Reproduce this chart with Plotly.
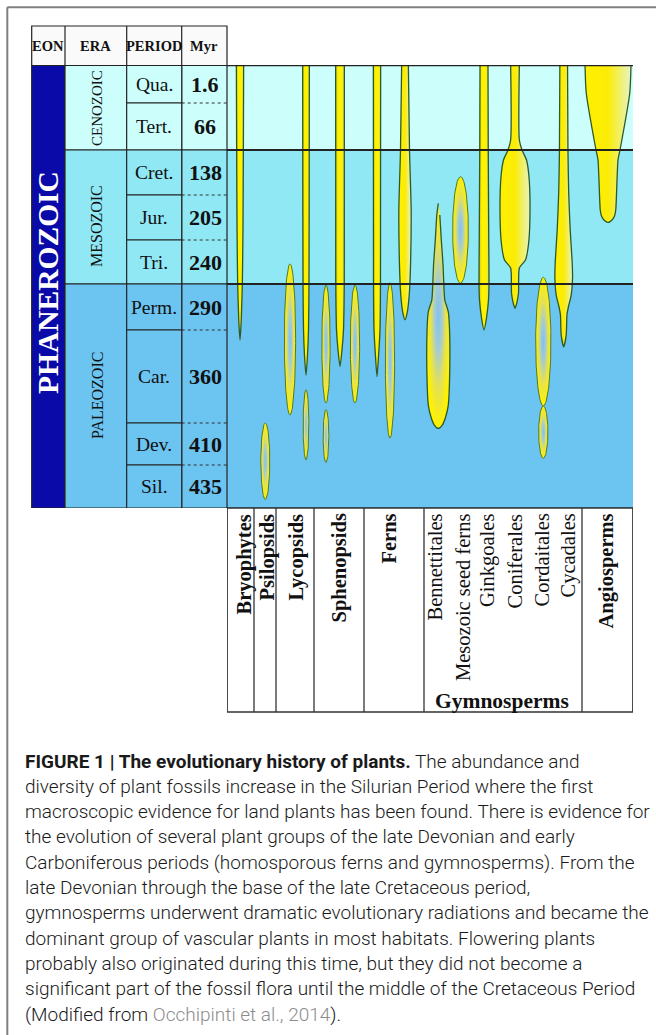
import numpy as np
import plotly.graph_objects as go

W, H = 656, 1035

# ---------------- data ----------------
EON = "PHANEROZOIC"
ERAS = ["CENOZOIC", "MESOZOIC", "PALEOZOIC"]
ERA_PERIOD_COUNT = [2, 3, 4]
PERIODS = ["Qua.", "Tert.", "Cret.", "Jur.", "Tri.", "Perm.", "Car.", "Dev.", "Sil."]
PERIOD_BASE_MYR = [1.6, 66, 138, 205, 240, 290, 360, 410, 435]
HEADERS = ["EON", "ERA", "PERIOD", "Myr"]
TAXA = ["Bryophytes", "Psilopsids", "Lycopsids", "Sphenopsids", "Ferns",
        "Bennettitales", "Mesozoic seed ferns", "Ginkgoales", "Coniferales",
        "Cordaitales", "Cycadales", "Angiosperms"]
TAXA_BOLD = [True, True, True, True, True, False, False, False, False, False, False, True]
GROUP_LABEL = "Gymnosperms"

# long-ranging lineages: age (Myr) and relative width (diversity)
BRYO_AGE = [0, 66, 186, 239, 279, 297.5]
BRYO_W = [7.3, 6.7, 6.0, 4.7, 2.5, 0]
LYCO_AGE = [0, 66, 240, 290, 309, 324]
LYCO_W = [6.7, 6.5, 6.0, 5.0, 3.0, 0]
SPHENO_AGE = [0, 240, 290, 305, 317.6]
SPHENO_W = [8.7, 8.5, 7.0, 4.0, 0]
FERN_AGE = [0, 240, 290, 310, 325]
FERN_W = [7.3, 7.0, 6.0, 3.0, 0]
FERN2_AGE = [0, 66, 160, 221, 250, 271.5, 279]
FERN2_W = [6.7, 9.0, 12.3, 11.3, 8.7, 4.3, 0]
BENNETT_AGE = [150.4, 167.8, 205, 225, 246.5, 257.4, 270.4, 290, 327.6, 346.5, 356.2, 362.4, 366.5]
BENNETT_W = [0, 3, 6, 9.5, 11.5, 13, 20, 22.5, 22.5, 20, 14, 8, 0]
GINKGO_AGE = [0, 66, 205, 240, 257.4, 276.9, 290]
GINKGO_W = [8.0, 8.5, 9.5, 10.0, 9.0, 5.0, 0]
CONIFER_AGE = [0, 52.3, 66, 82, 109.2, 160.3, 207.4, 220.9, 227.3, 249.8, 259.6, 266.4]
CONIFER_W = [8.7, 8.7, 14, 23, 28, 30, 27.3, 21, 8.7, 7.0, 4.0, 0]
CYCAD_AGE = [0, 66, 134.8, 190.1, 220.9, 234.4, 252, 265, 273.7, 293.8, 302.6]
CYCAD_W = [7.7, 8.5, 10, 13, 16.7, 17.7, 15, 9.3, 6.5, 5.0, 0]
ANGIO_AGE = [0, 1.18, 66, 82, 160.3, 169.3, 175.2, 178.9]
ANGIO_W = [46, 43.5, 24, 20, 15.5, 13, 8, 0]

# short-lived lineages (first/last appearance, Myr) with peak width
ELL_TAXON = ["Psilopsids", "Lycopsids", "Lycopsids", "Sphenopsids", "Sphenopsids",
             "Sphenopsids", "Ferns", "Mesozoic seed ferns", "Cordaitales", "Cordaitales"]
ELL_YOUNG = [360, 224, 335, 241, 350, 241, 239, 108.7, 234.7, 347.2]
ELL_OLD = [430, 354, 404, 345, 407, 345, 378, 239.4, 347.2, 402]
ELL_W = [9.0, 11.3, 5.7, 8.3, 5.7, 9.3, 9.3, 15.7, 15.3, 9.3]

# ---------------- layout constants ----------------
ROW_UNITS = [0, 38, 85, 130, 175, 219, 265, 358, 400, 443]  # drawn height of the time scale rows
CH_L, CH_R, CH_T, CH_B = 227, 633, 65, 508
LBL_B = 712
ERA_COLORS = ["#ccfefb", "#8fe8f4", "#6cc4f1"]
EON_COLOR = "#0a0aa8"
LANE_DIV = [0, 27, 49, 87, 137, 197, 355, 406]
ELL_LANE = [38.3, 63, 79, 99, 99, 128, 163, 233.5, 316.3, 316.3]
PROFILES = [  # (ages, widths, lane centre, style)
    (BRYO_AGE, BRYO_W, 13, "bar"),
    (LYCO_AGE, LYCO_W, 79, "bar"),
    (SPHENO_AGE, SPHENO_W, 113, "bar"),
    (FERN_AGE, FERN_W, 150, "bar"),
    (FERN2_AGE, FERN2_W, 178, "bulb"),
    (GINKGO_AGE, GINKGO_W, 257, "bar"),
    (CONIFER_AGE, CONIFER_W, 288, "bulb"),
    (CYCAD_AGE, CYCAD_W, 336.7, "bulb"),
    (ANGIO_AGE, ANGIO_W, 381, "bulb"),
    (BENNETT_AGE, BENNETT_W, 211.3, "radial"),
]
LABEL_X = [243.5, 267, 296, 339, 388.5, 434, 462.5, 487.5, 514, 541, 567.5, 606]

FILLS = {
    "bar": dict(type="horizontal", colorscale=[[0, "#cfcb1a"], [0.3, "#fff200"], [0.7, "#fff200"], [1, "#d6df6a"]]),
    "bulb": dict(type="horizontal", colorscale=[[0, "#fff000"], [0.5, "#fbec06"], [1, "#e6f4c4"]]),
    "radial": dict(type="radial", colorscale=[[0, "#7fc2ee"], [0.3, "#a2cbd4"], [0.62, "#e2e05a"], [1, "#fff200"]]),
}

BOUND_MYR = [0] + PERIOD_BASE_MYR


def myr_to_u(a):
    return np.interp(np.asarray(a, dtype=float), BOUND_MYR, ROW_UNITS)


def P(x):
    return x / W


def Q(y):
    return 1 - y / H


def ann(**kw):
    base = dict(showarrow=False, xanchor="center", yanchor="middle")
    base.update(kw)
    return base


fig = go.Figure()

# ---- spindles ----
for ages, widths, cx, style in PROFILES:
    u = myr_to_u(ages)
    hw = np.asarray(widths, dtype=float) / 2
    if hw[-1] == 0:
        xs = np.concatenate([cx - hw, (cx + hw)[-2::-1]])
        ys = np.concatenate([u, u[-2::-1]])
    else:
        xs = np.concatenate([cx - hw, (cx + hw)[::-1]])
        ys = np.concatenate([u, u[::-1]])
    if hw[0] == 0:
        xs = xs[:-1]
        ys = ys[:-1]
    fig.add_trace(go.Scatter(
        x=xs, y=ys, mode="lines", fill="toself",
        line=dict(color="#2c5a28", width=1.3, shape="spline", smoothing=0.6),
        fillgradient=FILLS[style], hoverinfo="skip", showlegend=False))

t = np.linspace(0, 2 * np.pi, 90)
for cx, a0, a1, w in zip(ELL_LANE, ELL_YOUNG, ELL_OLD, ELL_W):
    u0, u1 = myr_to_u(a0), myr_to_u(a1)
    xs = cx + w / 2 * np.sin(t)
    ys = (u0 + u1) / 2 - (u1 - u0) / 2 * np.cos(t)
    fig.add_trace(go.Scatter(
        x=xs, y=ys, mode="lines", fill="toself",
        line=dict(color="#4f7a2c", width=1.0),
        fillgradient=FILLS["radial"], hoverinfo="skip", showlegend=False))

shapes = []
annotations = []

# ---- chart backgrounds ----
era_bounds = [0]
for n in ERA_PERIOD_COUNT:
    era_bounds.append(era_bounds[-1] + n)
era_u = [ROW_UNITS[i] for i in era_bounds]
for i, col in enumerate(ERA_COLORS):
    shapes.append(dict(type="rect", xref="x", yref="y", x0=0, x1=406, y0=era_u[i], y1=era_u[i + 1],
                       fillcolor=col, line=dict(width=0), layer="below"))
# label box
shapes.append(dict(type="rect", xref="x", yref="paper", x0=0, x1=406, y0=Q(LBL_B), y1=Q(CH_B),
                   fillcolor="white", line=dict(color="#333", width=1.3), layer="below"))
for xd in LANE_DIV:
    shapes.append(dict(type="line", xref="x", yref="paper", x0=xd, x1=xd, y0=Q(LBL_B), y1=Q(CH_T),
                       line=dict(color="#333", width=1.3), layer="below"))
# horizontal era lines on top
for uu, wdt in [(0, 2.4), (era_u[1], 2.2), (era_u[2], 2.2), (443, 1.6)]:
    shapes.append(dict(type="line", xref="x", yref="y", x0=0, x1=406, y0=uu, y1=uu,
                       line=dict(color="#222", width=wdt)))

# ---- stratigraphic table ----
XE0, XE1, XP1, XM1, XT1 = 31.7, 65, 126.7, 181.7, 227
shapes.append(dict(type="rect", xref="paper", yref="y", x0=P(XE0), x1=P(XE1), y0=0, y1=443,
                   fillcolor=EON_COLOR, line=dict(color="#222", width=1.2)))
for i, col in enumerate(ERA_COLORS):
    shapes.append(dict(type="rect", xref="paper", yref="y", x0=P(XE1), x1=P(XP1), y0=era_u[i], y1=era_u[i + 1],
                       fillcolor=col, line=dict(color="#222", width=1.2)))
    shapes.append(dict(type="rect", xref="paper", yref="y", x0=P(XM1), x1=P(XT1), y0=era_u[i], y1=era_u[i + 1],
                       fillcolor=col, line=dict(color="#222", width=1.2)))
    for k in range(era_bounds[i], era_bounds[i + 1]):
        shapes.append(dict(type="rect", xref="paper", yref="y", x0=P(XP1), x1=P(XM1),
                           y0=ROW_UNITS[k], y1=ROW_UNITS[k + 1],
                           fillcolor=col, line=dict(color="#222", width=1.1)))
        if k > era_bounds[i]:
            shapes.append(dict(type="line", xref="paper", yref="y", x0=P(XM1), x1=P(XT1),
                               y0=ROW_UNITS[k], y1=ROW_UNITS[k],
                               line=dict(color="#333", width=1, dash="dot")))
# header
HY0, HY1 = 26, 65.5
shapes.append(dict(type="rect", xref="paper", yref="paper", x0=P(XE0), x1=P(XT1), y0=Q(HY1), y1=Q(HY0),
                   fillcolor="#fafafa", line=dict(color="#222", width=1.2)))
hx = [XE0, XE1, XP1, XM1, XT1]
for xd in hx[1:-1]:
    shapes.append(dict(type="line", xref="paper", yref="paper", x0=P(xd), x1=P(xd), y0=Q(HY1), y1=Q(HY0),
                       line=dict(color="#222", width=1.2)))
serif = "Liberation Serif"
for i, htxt in enumerate(HEADERS):
    annotations.append(ann(text="<b>%s</b>" % htxt, xref="paper", yref="paper",
                           x=P((hx[i] + hx[i + 1]) / 2), y=Q(46),
                           font=dict(family=serif, size=14.5, color="#111")))

for k, (pname, base) in enumerate(zip(PERIODS, PERIOD_BASE_MYR)):
    um = (ROW_UNITS[k] + ROW_UNITS[k + 1]) / 2
    annotations.append(ann(text=pname, xref="paper", yref="y", x=P((XP1 + XM1) / 2), y=um,
                           font=dict(family=serif, size=19.5, color="#111")))
    annotations.append(ann(text="<b>%s</b>" % ("%g" % base), xref="paper", yref="y",
                           x=P((XM1 + XT1) / 2 + 1), y=um,
                           font=dict(family=serif, size=22, color="#111")))
era_text_y = [108, 226, 396]
era_text_size = [15, 16, 16]
for i, ename in enumerate(ERAS):
    annotations.append(ann(text=ename, xref="paper", yref="paper", x=P(97), y=Q(era_text_y[i]),
                           textangle=-90, font=dict(family=serif, size=era_text_size[i], color="#111")))
annotations.append(ann(text="<b>%s</b>" % EON, xref="paper", yref="paper", x=P(48), y=Q(283),
                       textangle=-90, font=dict(family=serif, size=29.5, color="white")))

# taxon labels
for name, bold, lx in zip(TAXA, TAXA_BOLD, LABEL_X):
    annotations.append(ann(text=("<b>%s</b>" % name) if bold else name, xref="x", yref="paper",
                           x=lx - CH_L, y=Q(512), yanchor="top",
                           textangle=-90, font=dict(family=serif, size=20.5, color="#111")))
annotations.append(ann(text="<b>%s</b>" % GROUP_LABEL, xref="paper", yref="paper",
                       x=P(502), y=Q(700.5), font=dict(family=serif, size=21.5, color="#111")))

# ---- outer frame ----
shapes.append(dict(type="line", xref="paper", yref="paper", x0=P(7.3), x1=P(7.3), y0=0, y1=Q(7.3),
                   line=dict(color="#808080", width=2)))
shapes.append(dict(type="line", xref="paper", yref="paper", x0=P(7.3), x1=1, y0=Q(7.3), y1=Q(7.3),
                   line=dict(color="#808080", width=2)))

# ---- caption ----
CAPTION = [
    "<b>FIGURE 1 | The evolutionary history of plants.</b> The abundance and",
    "diversity of plant fossils increase in the Silurian Period where the first",
    "macroscopic evidence for land plants has been found. There is evidence for",
    "the evolution of several plant groups of the late Devonian and early",
    "Carboniferous periods (homosporous ferns and gymnosperms). From the",
    "late Devonian through the base of the late Cretaceous period,",
    "gymnosperms underwent dramatic evolutionary radiations and became the",
    "dominant group of vascular plants in most habitats. Flowering plants",
    "probably also originated during this time, but they did not become a",
    "significant part of the fossil flora until the middle of the Cretaceous Period",
    "(Modified from <span style='color:#8c8c8c'>Occhipinti et al., 2014</span>).",
]
for i, line in enumerate(CAPTION):
    annotations.append(ann(text=line, xref="paper", yref="paper", x=P(23), y=Q(761 + 25.3 * i),
                           xanchor="left",
                           font=dict(family="Roboto", size=19, weight=300, color="#1a1a1a")))

fig.update_layout(
    width=W, height=H, margin=dict(l=0, r=0, t=0, b=0),
    paper_bgcolor="white", plot_bgcolor="rgba(0,0,0,0)",
    xaxis=dict(domain=[P(CH_L), P(CH_R)], range=[0, 406], visible=False, fixedrange=True),
    yaxis=dict(domain=[Q(CH_B), Q(CH_T)], range=[443, 0], visible=False, fixedrange=True),
    shapes=shapes, annotations=annotations, showlegend=False,
)
fig.write_html("out.html", config={"displayModeBar": False},
               post_script="document.body.style.margin='0px';document.body.style.overflow='hidden';")
